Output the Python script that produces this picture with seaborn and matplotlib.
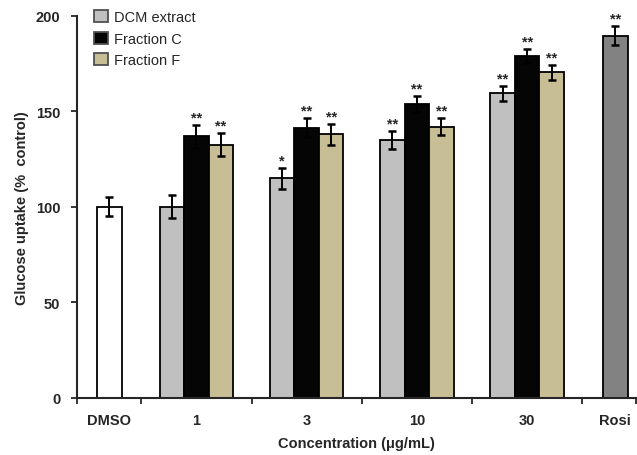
import numpy as np
import pandas as pd
import matplotlib
matplotlib.use('Agg')
import matplotlib.pyplot as plt
import seaborn as sns

# values (mean +/- error, % control)
concs = ['1', '3', '10', '30']
samples = ['DCM extract', 'Fraction C', 'Fraction F']
dcm_mean = [100, 115, 135, 159.5]
dcm_err = [6, 5.5, 4.5, 4]
fc_mean = [137, 141.5, 154, 179]
fc_err = [6, 5, 4.3, 3.5]
ff_mean = [132.5, 138, 142, 170.5]
ff_err = [6, 5.4, 4.4, 4]
dcm_sig = ['', '*', '**', '**']
fc_sig = ['**', '**', '**', '**']
ff_sig = ['**', '**', '**', '**']
dmso_mean, dmso_err = 100, 5
rosi_mean, rosi_err, rosi_sig = 189.5, 5, '**'
colors = ['#c0c0c0', '#050505', '#c8be96']

df = pd.DataFrame({
    'conc': concs * 3,
    'sample': np.repeat(samples, len(concs)),
    'value': dcm_mean + fc_mean + ff_mean,
})
errs = [dcm_err, fc_err, ff_err]
sigs = [dcm_sig, fc_sig, ff_sig]

sns.set_style('ticks')
plt.rcParams['font.family'] = ['Liberation Sans', 'DejaVu Sans']

fig = plt.figure(figsize=(6.37, 4.56), dpi=100)
ax = fig.add_axes([0.121, 0.125, 0.877, 0.838])

bw = 0.222
sns.barplot(data=df, x='conc', y='value', hue='sample', order=concs, hue_order=samples,
            palette=colors, errorbar=None, width=3 * bw, gap=0, saturation=1,
            edgecolor='black', linewidth=1.3, ax=ax)

# single-bar controls outside the concentration groups
x_dmso, x_rosi = -0.79, 3.80
ax.bar([x_dmso], [dmso_mean], width=bw, color='white', edgecolor='black', linewidth=1.3)
ax.bar([x_rosi], [rosi_mean], width=bw, color='#828282', edgecolor='black', linewidth=1.3)

ekw = dict(fmt='none', ecolor='black', elinewidth=1.4, capsize=2.6, capthick=1.8, zorder=5)
star_kw = dict(ha='center', va='bottom', fontsize=10.5, fontweight='bold')
for cont, e, s in zip(ax.containers, errs, sigs):
    xs = [b.get_x() + b.get_width() / 2 for b in cont]
    hs = [b.get_height() for b in cont]
    ax.errorbar(xs, hs, yerr=e, **ekw)
    for x, h, ee, ss in zip(xs, hs, e, s):
        if ss:
            ax.text(x, h + ee + 0.3, ss, **star_kw)
ax.errorbar([x_dmso], [dmso_mean], yerr=dmso_err, **ekw)
ax.errorbar([x_rosi], [rosi_mean], yerr=rosi_err, **ekw)
ax.text(x_rosi, rosi_mean + rosi_err + 0.3, rosi_sig, **star_kw)

ax.set_xlim(-1.083, 3.985)
ax.set_ylim(0, 200)
ax.set_yticks([0, 50, 100, 150, 200])
ax.set_xticks([-1.083, -0.5, 0.5, 1.5, 2.5, 3.5, 3.985])
ax.set_xticklabels([])
ax.set_xticks([x_dmso, 0, 1, 2, 3, x_rosi], minor=True)
ax.set_xticklabels(['DMSO'] + concs + ['Rosi'], minor=True, fontsize=10.5, fontweight='bold')
ax.tick_params(axis='x', which='minor', length=0, pad=11)
ax.tick_params(axis='both', which='major', length=4, width=1.3, direction='out')
for t in ax.get_yticklabels():
    t.set_fontweight('bold')
    t.set_fontsize(10.5)
ax.tick_params(axis='y', pad=8)
for sp in ['top', 'right']:
    ax.spines[sp].set_visible(False)
for sp in ['left', 'bottom']:
    ax.spines[sp].set_linewidth(1.5)

ax.set_xlabel('Concentration (\u03bcg/mL)', fontsize=10.5, fontweight='bold', labelpad=6)
ax.set_ylabel('Glucose uptake (%  control)', fontsize=10.5, fontweight='bold', labelpad=5)

handles, labels = ax.get_legend_handles_labels()
for h in handles:
    h.set_edgecolor('#505050')
leg = ax.legend(handles, labels, loc='upper left', bbox_to_anchor=(0.03, 1.015), frameon=False,
                borderaxespad=0, borderpad=0, handlelength=1.0, handleheight=0.9,
                handletextpad=0.4, labelspacing=0.5, fontsize=10.5)

fig.savefig('out.png', dpi=100)
